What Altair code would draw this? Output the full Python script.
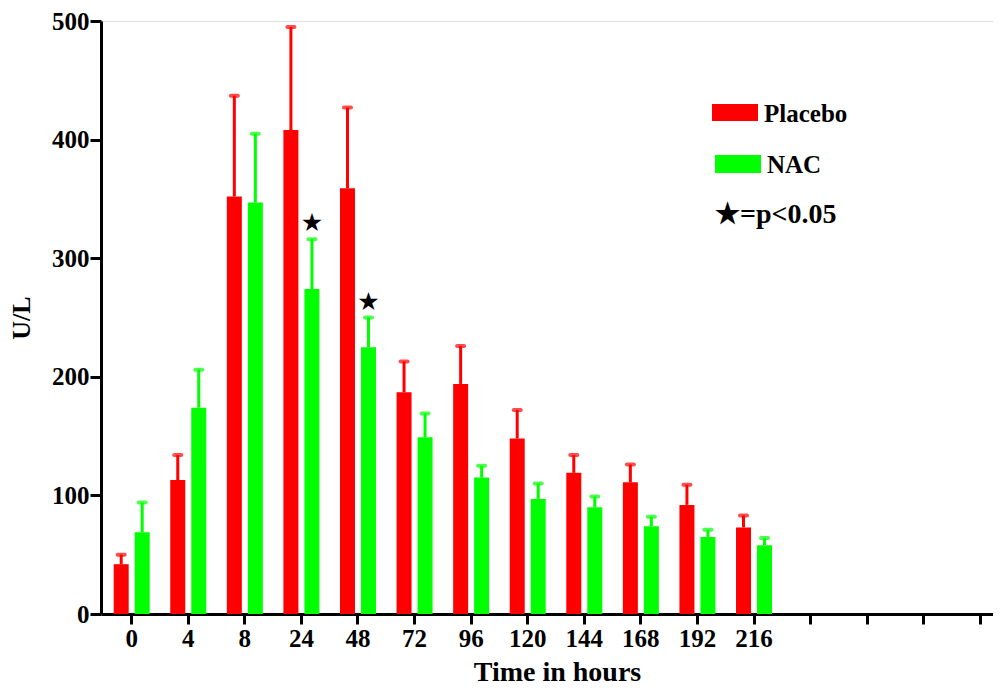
import altair as alt
import pandas as pd

# ---- data ----
times = ["0", "4", "8", "24", "48", "72", "96", "120", "144", "168", "192", "216"]
empty_slots = [" ", "  ", "   ", "    "]
groups = ["Placebo", "NAC"]
placebo = [42, 113, 352, 408, 359, 187, 194, 148, 119, 111, 92, 73]
placebo_err = [8, 21, 85, 87, 68, 26, 32, 24, 15, 15, 17, 10]
nac = [69, 174, 347, 274, 225, 149, 115, 97, 90, 74, 65, 58]
nac_err = [25, 32, 58, 42, 25, 20, 10, 13, 9, 8, 6, 6]
significant = ["24", "48"]
colors = ["#ff0000", "#00ff00"]

rows = []
for i, t in enumerate(times):
    rows.append({"time": t, "group": "Placebo", "value": placebo[i], "upper": placebo[i] + placebo_err[i]})
    rows.append({"time": t, "group": "NAC", "value": nac[i], "upper": nac[i] + nac_err[i]})
df = pd.DataFrame(rows)
stars_df = df[(df["group"] == "NAC") & (df["time"].isin(significant))]

FONT = "Liberation Serif"

x_scale = alt.Scale(domain=times + empty_slots, range=[0, 910], paddingOuter=0.0424, paddingInner=0)
xo_scale = alt.Scale(domain=groups, paddingInner=0.2857, paddingOuter=0.49)
y_scale = alt.Scale(domain=[0, 500], nice=False, zero=True)
c_scale = alt.Scale(domain=groups, range=colors)

x_axis = alt.Axis(
    title="Time in hours", labelAngle=0, grid=False,
    labelFont=FONT, labelFontWeight="bold", labelFontSize=25, labelColor="black", labelPadding=2,
    titleFont=FONT, titleFontWeight="bold", titleFontSize=28, titleColor="black",
    titleX=456, titleY=66, titleAlign="center", titleBaseline="alphabetic",
    domainColor="black", domainWidth=3, tickColor="black", tickWidth=3, tickSize=10,
)
y_axis = alt.Axis(
    title="U/L", values=[0, 100, 200, 300, 400, 500], grid=False,
    labelFont=FONT, labelFontWeight="bold", labelFontSize=25, labelColor="black", labelPadding=1,
    titleFont=FONT, titleFontWeight="bold", titleFontSize=26, titleColor="black", titlePadding=17,
    domainColor="black", domainWidth=3, tickColor="black", tickWidth=3, tickSize=11,
)

X = alt.X("time:N", scale=x_scale, axis=x_axis, sort=None)
XO = alt.XOffset("group:N", scale=xo_scale, sort=None)
C = alt.Color("group:N", scale=c_scale, legend=None)

base = alt.Chart(df)
bars = base.mark_bar().encode(x=X, xOffset=XO, y=alt.Y("value:Q", scale=y_scale, axis=y_axis), color=C)
whisk = base.mark_rule(strokeWidth=3).encode(x=X, xOffset=XO, y=alt.Y("value:Q"), y2="upper:Q", color=C)
caps = base.mark_tick(thickness=4, size=11, cornerRadius=2).encode(x=X, xOffset=XO, y=alt.Y("upper:Q"), color=C)
stars = alt.Chart(stars_df).mark_text(text="★", font="DejaVu Sans", fontSize=25, baseline="alphabetic", dy=-8, color="black").encode(
    x=X, xOffset=XO, y=alt.Y("upper:Q"))

leg_df = pd.DataFrame({"label": groups, "color": colors})
leg_red = alt.Chart(leg_df[leg_df.label == "Placebo"]).mark_rect(color=colors[0]).encode(
    x=alt.value(611), x2=alt.value(657), y=alt.value(83), y2=alt.value(100))
leg_green = alt.Chart(leg_df[leg_df.label == "NAC"]).mark_rect(color=colors[1]).encode(
    x=alt.value(614), x2=alt.value(660), y=alt.value(134), y2=alt.value(152))
txt_style = dict(font=FONT, fontWeight="bold", align="left", baseline="alphabetic", color="black")
leg_t1 = alt.Chart(leg_df[leg_df.label == "Placebo"]).mark_text(fontSize=25, **txt_style).encode(
    x=alt.value(663), y=alt.value(101), text="label:N")
leg_t2 = alt.Chart(leg_df[leg_df.label == "NAC"]).mark_text(fontSize=25, **txt_style).encode(
    x=alt.value(666), y=alt.value(152), text="label:N")
leg_t3 = alt.Chart(pd.DataFrame({"label": ["★=p<0.05"]})).mark_text(fontSize=28, **txt_style).encode(
    x=alt.value(614), y=alt.value(202), text="label:N")

chart = alt.layer(bars, whisk, caps, stars, leg_red, leg_green, leg_t1, leg_t2, leg_t3).properties(
    width=892, height=593,
    padding={"left": 93, "top": 13, "right": 0, "bottom": 72},
    autosize=alt.AutoSizeParams(type="none"),
).configure_view(stroke=None).configure(background="white")

chart.save("out.html", embed_options={"renderer": "svg", "actions": False})
